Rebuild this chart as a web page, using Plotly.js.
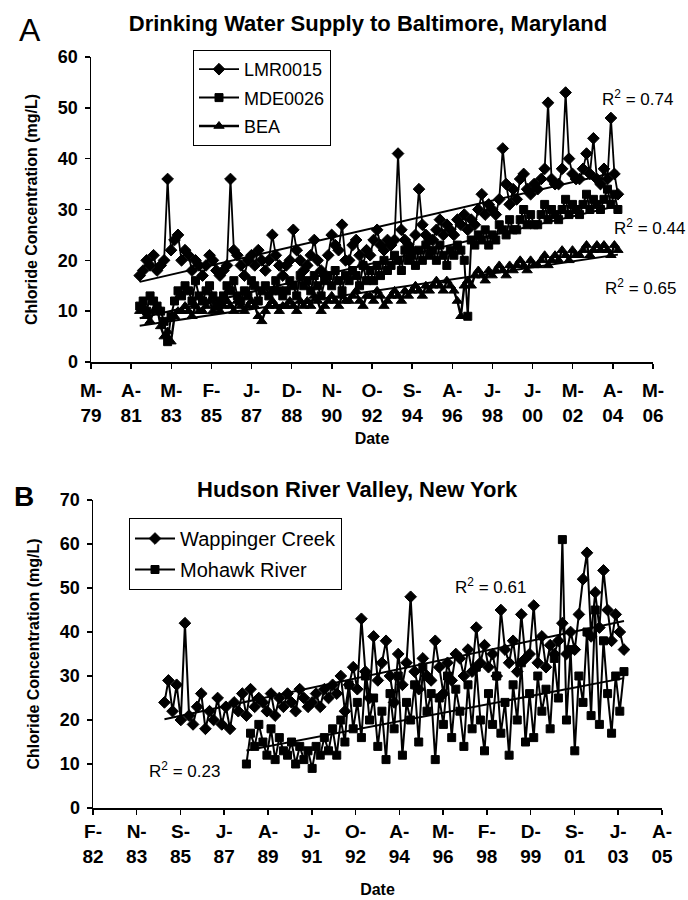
<!DOCTYPE html>
<html>
<head>
<meta charset="utf-8">
<script src="https://cdn.plot.ly/plotly-3.0.1.min.js"></script>
<style>
html,body{margin:0;padding:0;background:#ffffff;}
#chart{width:688px;height:900px;}
</style>
</head>
<body>
<div id="chart"></div>
<script>
// ---------- Panel A: Drinking Water Supply to Baltimore, Maryland ----------
// bimonthly samples, first sample Sep 1981
const startA = [1981, 9];
const stepA = 2;
const lmr0015 = [
  17,18,20,19,21,18, 19,20,36,22,24,25, 20,22,21,18,20,19, 17,19,21,20,18,17,
  18,19,36,22,21,19, 17,20,21,19,22,20, 18,20,25,21,19,17, 19,20,26,22,20,18,
  19,21,24,20,18,17, 21,25,23,22,27,20, 20,23,24,21,19,22, 21,24,26,23,22,24,
  23,24,41,26,24,23, 22,25,34,27,25,24, 24,26,28,25,27,26, 25,28,27,29,26,28,
  27,30,33,29,31,30, 29,32,42,35,31,34, 32,36,37,34,33,35, 34,36,38,51,36,35,
  35,38,53,40,37,36, 36,38,41,37,44,36, 35,38,36,48,37,33
];
const mde0026 = [
  11,12,10,13,12,11, 10,8,4,9,12,14, 13,15,14,12,16,13, 12,14,15,13,11,12,
  13,15,14,16,13,12, 14,13,16,15,12,14, 15,13,14,16,14,13, 14,16,15,13,17,15,
  16,14,17,15,13,16, 17,15,18,16,14,17, 16,18,17,15,19,16, 18,16,19,17,20,18,
  19,21,20,18,22,20, 21,19,22,20,23,21, 22,20,23,21,19,22, 21,23,22,20,9,24,
  23,25,24,26,23,25, 24,27,26,25,28,26, 26,28,30,27,29,27, 27,29,31,28,30,29,
  28,30,32,29,31,30, 29,31,33,30,32,31, 30,32,34,31,33,30
];
const bea = [
  10,11,9,8,10,11, 7,5,6,4,9,10, 10,11,10,9,11,10, 10,11,12,10,11,10,
  11,12,11,10,12,11, 10,11,12,11,9,8, 10,11,12,11,10,11, 11,12,11,10,12,11,
  12,11,13,12,10,11, 12,13,12,11,13,12, 12,13,14,12,11,13, 13,12,14,13,11,12,
  13,14,13,12,14,13, 14,15,14,13,15,14, 15,16,15,14,16,15, 14,12,9,15,16,15,
  17,18,17,16,18,17, 18,19,18,17,19,18, 19,20,19,18,20,19, 19,20,21,19,20,21,
  20,22,21,20,22,21, 21,22,23,21,22,23, 22,23,22,21,23,22
];
const tickDatesA = ['1979-05-20','1981-04-19','1983-03-20','1985-02-17','1987-01-18','1988-12-18',
  '1990-11-18','1992-10-18','1994-09-18','1996-08-18','1998-07-19','2000-06-18','2002-05-19',
  '2004-04-18','2006-03-19'];
const tickTextA = ['M-<br>79','A-<br>81','M-<br>83','F-<br>85','J-<br>87','D-<br>88','N-<br>90',
  'O-<br>92','S-<br>94','A-<br>96','J-<br>98','J-<br>00','M-<br>02','A-<br>04','M-<br>06'];
const namesA = ['LMR0015','MDE0026','BEA'];
const r2TextA = ['R<sup>2</sup> = 0.74','R<sup>2</sup> = 0.44','R<sup>2</sup> = 0.65'];

// ---------- Panel B: Hudson River Valley, New York ----------
const startWap = [1985, 1];
const wappinger = [
  24,29,22,28,20,42, 21,19,23,26,18,22, 20,25,19,23,18,24, 22,26,21,27,23,25,
  24,22,26,21,25,23, 26,24,22,27,25,23, 24,26,23,27,25,28, 26,30,22,28,32,27,
  43,31,25,39,29,33, 38,30,24,35,28,33, 48,31,27,34,30,29, 38,32,26,33,29,35,
  34,30,36,31,41,33, 37,32,35,30,45,36, 33,38,31,44,34,35, 46,33,39,32,37,35,
  38,42,35,40,36,44, 52,58,39,49,41,54, 45,38,44,40,36
];
const startMoh = [1988, 5];
const stepB = 2;
const mohawk = [
  10,17,14,19,
  15,12,18,11,16,13, 12,15,10,14,11,13, 9,14,12,16,13,18, 12,20,15,28,18,24,
  16,30,20,25,14,22, 11,26,18,30,12,24, 20,28,15,32,22,26, 11,25,19,30,16,27,
  22,14,28,18,32,20, 13,26,19,30,17,24, 12,28,20,33,15,26, 16,30,22,27,18,34,
  25,61,20,36,13,30, 24,40,21,45,19,38, 26,17,30,22,31
];
const tickDatesB = ['1982-02-20','1983-11-30','1985-09-10','1987-06-20','1989-04-01','1991-01-10',
  '1992-10-20','1994-08-01','1996-05-10','1998-02-18','1999-12-01','2001-09-10','2003-06-20','2005-04-01'];
const tickTextB = ['F-<br>82','N-<br>83','S-<br>85','J-<br>87','A-<br>89','J-<br>91','O-<br>92',
  'A-<br>94','M-<br>96','F-<br>98','D-<br>99','S-<br>01','J-<br>03','A-<br>05'];
const namesB = ['Wappinger Creek','Mohawk River'];
const r2TextB = ['R<sup>2</sup> = 0.61','R<sup>2</sup> = 0.23'];

// ---------- helpers ----------
function sampleDates(start, step, count) {
  const out = [];
  for (let i = 0; i < count; i++) {
    const m = start[1] - 1 + i * step;
    const y = start[0] + Math.floor(m / 12);
    const mm = (m % 12) + 1;
    out.push(y + '-' + String(mm).padStart(2, '0') + '-15');
  }
  return out;
}
function linFit(dates, vals) {
  const xs = dates.map(d => Date.parse(d));
  const n = xs.length;
  const mx = xs.reduce((a, b) => a + b, 0) / n;
  const my = vals.reduce((a, b) => a + b, 0) / n;
  let sxy = 0, sxx = 0;
  for (let i = 0; i < n; i++) { sxy += (xs[i] - mx) * (vals[i] - my); sxx += (xs[i] - mx) ** 2; }
  const b = sxy / sxx, a = my - b * mx;
  return { x: [dates[0], dates[n - 1]], y: [a + b * xs[0], a + b * xs[n - 1]] };
}

const FONT = 'Liberation Sans, Arial, Helvetica, sans-serif';
const BLACK = '#000000';

const datesLMR = sampleDates(startA, stepA, lmr0015.length);
const datesMDE = sampleDates(startA, stepA, mde0026.length);
const datesBEA = sampleDates(startA, stepA, bea.length);
const datesWap = sampleDates(startWap, stepB, wappinger.length);
const datesMoh = sampleDates(startMoh, stepB, mohawk.length);

function series(name, x, y, symbol, ax, ay, legend, grp, lw, ms) {
  return {
    type: 'scatter', mode: 'lines+markers', name: name, x: x, y: y,
    xaxis: ax, yaxis: ay, legend: legend, legendgroup: grp,
    line: { color: BLACK, width: lw },
    marker: { symbol: symbol, size: ms, color: BLACK, line: { color: BLACK, width: 1 } }
  };
}
function trendTrace(fit, ax, ay) {
  return {
    type: 'scatter', mode: 'lines', x: fit.x, y: fit.y, xaxis: ax, yaxis: ay,
    showlegend: false, hoverinfo: 'skip', line: { color: BLACK, width: 2 }
  };
}

const traces = [
  series(namesA[0], datesLMR, lmr0015, 'diamond', 'x', 'y', 'legend', 'a1', 1.8, 9),
  series(namesA[1], datesMDE, mde0026, 'square', 'x', 'y', 'legend', 'a2', 2, 8),
  series(namesA[2], datesBEA, bea, 'triangle-up', 'x', 'y', 'legend', 'a3', 2.4, 9),
  trendTrace(linFit(datesLMR, lmr0015), 'x', 'y'),
  trendTrace(linFit(datesMDE, mde0026), 'x', 'y'),
  trendTrace(linFit(datesBEA, bea), 'x', 'y'),
  series(namesB[0], datesWap, wappinger, 'diamond', 'x2', 'y2', 'legend2', 'b1', 2, 9),
  series(namesB[1], datesMoh, mohawk, 'square', 'x2', 'y2', 'legend2', 'b2', 2, 8),
  trendTrace(linFit(datesWap, wappinger), 'x2', 'y2'),
  trendTrace(linFit(datesMoh, mohawk), 'x2', 'y2')
];

const W = 688, H = 900;
const px = v => v / W;
const py = v => 1 - v / H;

function xAxis(domain, ticks, texts, anchor, labelGap, titleGap) {
  return {
    domain: domain, anchor: anchor, type: 'date',
    range: [ticks[0], ticks[ticks.length - 1]],
    tickmode: 'array', tickvals: ticks, ticktext: texts,
    showline: true, linecolor: BLACK, linewidth: 1.5,
    ticks: 'outside', ticklen: 5, tickwidth: 1.5, tickcolor: BLACK,
    ticklabelstandoff: labelGap,
    tickfont: { family: FONT, size: 19, color: BLACK, weight: 'bold' },
    showgrid: false, zeroline: false, fixedrange: true,
    title: { text: 'Date', font: { family: FONT, size: 16, color: BLACK, weight: 'bold' }, standoff: titleGap }
  };
}
function yAxis(domain, max, anchor) {
  return {
    domain: domain, anchor: anchor, range: [0, max], tickmode: 'linear', tick0: 0, dtick: 10,
    showline: true, linecolor: BLACK, linewidth: 1.5,
    ticks: 'outside', ticklen: 5, tickwidth: 1.5, tickcolor: BLACK,
    ticklabelstandoff: 3,
    tickfont: { family: FONT, size: 18, color: BLACK, weight: 'bold' },
    showgrid: false, zeroline: false, fixedrange: true,
    title: { text: 'Chloride Concentration (mg/L)', font: { family: FONT, size: 16, color: BLACK, weight: 'bold' }, standoff: 16 }
  };
}

const layout = {
  width: W, height: H,
  margin: { l: 0, r: 0, t: 0, b: 0 },
  paper_bgcolor: '#ffffff', plot_bgcolor: '#ffffff',
  font: { family: FONT, color: BLACK },
  hovermode: false,
  title: {
    text: 'Drinking Water Supply to Baltimore, Maryland',
    x: px(368), xanchor: 'center', y: py(23), yanchor: 'middle',
    font: { family: FONT, size: 22, color: BLACK, weight: 'bold' }
  },
  xaxis: xAxis([px(91), px(653)], tickDatesA, tickTextA, 'y', 6, 8),
  yaxis: yAxis([py(362), py(57)], 60, 'x'),
  xaxis2: xAxis([px(93), px(662)], tickDatesB, tickTextB, 'y2', 1, 18),
  yaxis2: yAxis([py(808), py(500)], 70, 'x2'),
  showlegend: true,
  legend: {
    x: px(193), y: py(50), xanchor: 'left', yanchor: 'top',
    bordercolor: BLACK, borderwidth: 1, bgcolor: '#ffffff',
    font: { family: FONT, size: 18, color: BLACK }, tracegroupgap: 2, itemwidth: 40
  },
  legend2: {
    x: px(129), y: py(518), xanchor: 'left', yanchor: 'top',
    bordercolor: BLACK, borderwidth: 1, bgcolor: '#ffffff',
    font: { family: FONT, size: 20, color: BLACK }, tracegroupgap: 2, itemwidth: 40
  },
  annotations: [
    { text: 'A', x: px(30), y: py(30), xref: 'paper', yref: 'paper', showarrow: false,
      xanchor: 'center', yanchor: 'middle', font: { family: FONT, size: 32, color: BLACK } },
    { text: 'B', x: px(24), y: py(497), xref: 'paper', yref: 'paper', showarrow: false,
      xanchor: 'center', yanchor: 'middle', font: { family: FONT, size: 28, color: BLACK, weight: 'bold' } },
    { text: 'Hudson River Valley, New York', x: px(357), y: py(490), xref: 'paper', yref: 'paper',
      showarrow: false, xanchor: 'center', yanchor: 'middle',
      font: { family: FONT, size: 22, color: BLACK, weight: 'bold' } },
    { text: r2TextA[0], x: px(600), y: py(98), xref: 'paper', yref: 'paper', showarrow: false,
      xanchor: 'left', yanchor: 'middle', font: { family: FONT, size: 17, color: BLACK } },
    { text: r2TextA[1], x: px(612), y: py(227), xref: 'paper', yref: 'paper', showarrow: false,
      xanchor: 'left', yanchor: 'middle', font: { family: FONT, size: 17, color: BLACK } },
    { text: r2TextA[2], x: px(603), y: py(287), xref: 'paper', yref: 'paper', showarrow: false,
      xanchor: 'left', yanchor: 'middle', font: { family: FONT, size: 17, color: BLACK } },
    { text: r2TextB[0], x: px(453), y: py(586), xref: 'paper', yref: 'paper', showarrow: false,
      xanchor: 'left', yanchor: 'middle', font: { family: FONT, size: 17, color: BLACK } },
    { text: r2TextB[1], x: px(147), y: py(770), xref: 'paper', yref: 'paper', showarrow: false,
      xanchor: 'left', yanchor: 'middle', font: { family: FONT, size: 17, color: BLACK } }
  ]
};

Plotly.newPlot('chart', traces, layout, { displayModeBar: false, staticPlot: true });
</script>
</body>
</html>
